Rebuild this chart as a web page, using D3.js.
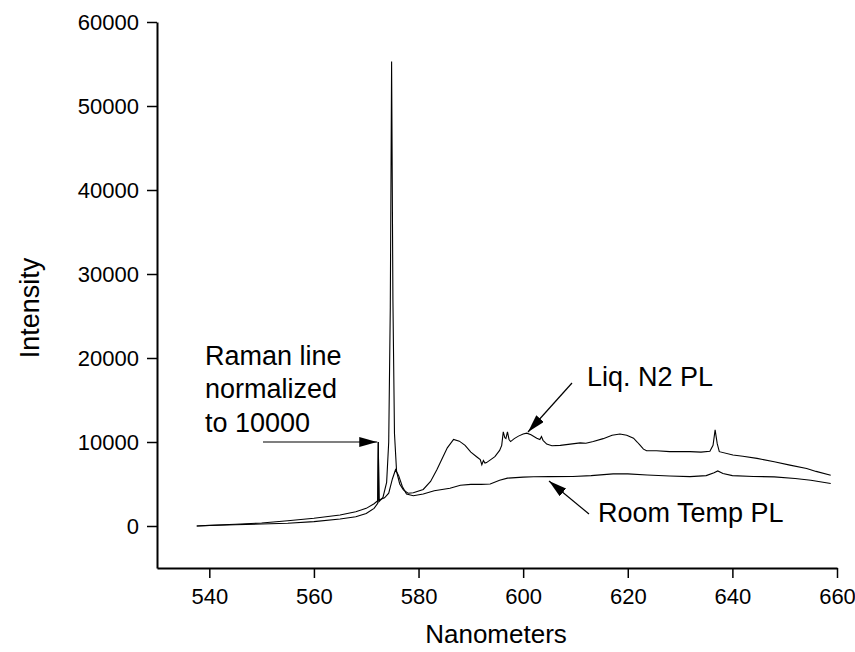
<!DOCTYPE html>
<html>
<head>
<meta charset="utf-8">
<script src="https://cdn.jsdelivr.net/npm/d3@7"></script>
<style>
  body { margin: 0; background: #fff; }
  text { font-family: "Liberation Sans", Arial, sans-serif; fill: #000; }
</style>
</head>
<body>
<svg width="855" height="652"></svg>
<script>
// spectra (nm, counts)
const n2Wave = [537.6, 540, 545, 550, 555, 560, 565, 568, 570, 571.5, 572.2, 572.3, 572.45,
    573.2, 573.9, 574.3, 574.6, 574.85, 575.1, 575.4, 575.8, 576.4, 577.1, 578.0, 579.0,
    580.9, 582.3, 583.5, 584.5, 585.5, 586.7, 587.8, 588.9, 590.0, 591.1, 591.8, 592.1,
    592.4, 592.7, 593.0, 593.8, 594.6, 595.5, 595.9, 596.2, 596.5, 596.7, 597.0, 597.3,
    597.6, 598.3, 599.1, 600.0, 600.7, 601.5, 602.6, 603.2, 603.5, 603.8, 604.5, 605.5,
    607.1, 609, 610.9, 612, 613.4, 615.3, 617, 618.5, 619.8, 621.1, 621.8, 622.3, 623.0,
    623.6, 625.5, 628, 631.9, 634, 635.7, 636.3, 636.7, 637.1, 637.5, 640.1, 642, 644.7,
    648, 651.0, 654.2, 656, 658.8];
const n2Int = [0, 60, 150, 240, 330, 520, 830, 1100, 1500, 2100, 2700, 10000, 2900,
    3400, 5200, 10000, 26000, 55300, 27000, 11000, 6500, 5000, 4300, 3900, 3950,
    4350, 5300, 6700, 8000, 9300, 10300, 10100, 9600, 8800, 8250, 7900, 7300,
    7800, 7500, 7550, 7900, 8250, 9000, 9600, 11200, 10500, 10400, 11200, 10300,
    10050, 10400, 10700, 10950, 11050, 10850, 10450, 10300, 10650, 10200, 9750, 9550,
    9600, 9750, 9900, 9850, 10050, 10400, 10800, 10950, 10800, 10450, 10000, 9650, 9150,
    8950, 8950, 8850, 8850, 8800, 8900, 9600, 11450, 9800, 8850, 8450, 8300, 8050,
    7650, 7250, 6850, 6500, 6050];

const rtWave = [537.6, 540, 545, 550, 555, 560, 565, 568, 570, 571.5, 572.2, 572.3, 572.45,
    573.5, 574.3, 575.0, 575.6, 576.2, 576.9, 577.7, 579, 580.9, 583, 586, 588, 590, 592,
    593.7, 595.5, 597, 600, 602, 605, 609.5, 613, 617.2, 620, 623.7, 628, 631.9, 635,
    636.5, 637.2, 638.2, 640, 644, 648, 652, 655, 658.8];
const rtInt = [0, 80, 200, 360, 620, 920, 1300, 1700, 2100, 2650, 3000, 10000, 3100,
    3350, 3900, 5600, 6700, 6000, 4700, 3800, 3600, 3800, 4200, 4500, 4850, 4950, 4950,
    5000, 5450, 5700, 5820, 5870, 5880, 5900, 6000, 6200, 6200, 6080, 5950, 5880, 6000,
    6350, 6550, 6250, 6000, 5900, 5850, 5650, 5450, 5050];

const xMajor = [540, 560, 580, 600, 620, 640, 660];
const xMinor = [530, 550, 570, 590, 610, 630, 650];
const yMajor = [0, 10000, 20000, 30000, 40000, 50000, 60000];
const yMinor = [-5000, 5000, 15000, 25000, 35000, 45000, 55000];

const svg = d3.select("svg");

const x = d3.scaleLinear().domain([530, 660]).range([157, 837]);
const y = d3.scaleLinear().domain([-5000, 60000]).range([568, 22]);

svg.append("defs").append("marker")
    .attr("id", "head")
    .attr("viewBox", "0 0 18 10")
    .attr("refX", 18).attr("refY", 5)
    .attr("markerWidth", 18).attr("markerHeight", 10)
    .attr("markerUnits", "userSpaceOnUse")
    .attr("orient", "auto")
    .append("path")
    .attr("d", "M0,0L18,5L0,10Z")
    .attr("fill", "#000");

// axes
const xAxis = svg.append("g").attr("transform", "translate(0,568)");
xAxis.call(d3.axisBottom(x).tickValues(xMinor).tickSize(6).tickFormat("").tickSizeOuter(0));
xAxis.call(d3.axisBottom(x).tickValues(xMajor).tickSize(10).tickPadding(10).tickSizeOuter(0));

const yAxis = svg.append("g").attr("transform", "translate(157,0)");
yAxis.call(d3.axisLeft(y).tickValues(yMinor).tickSize(6).tickFormat("").tickSizeOuter(0));
yAxis.call(d3.axisLeft(y).tickValues(yMajor).tickSize(10).tickPadding(8).tickFormat(d3.format("d")).tickSizeOuter(0));

svg.selectAll(".domain").attr("stroke-width", 2);
svg.selectAll(".tick line").attr("stroke-width", 1.5);
svg.selectAll(".tick text").attr("font-size", 22).attr("font-family", "Liberation Sans, Arial, sans-serif");

svg.append("text")
    .attr("x", 496).attr("y", 643)
    .attr("text-anchor", "middle")
    .attr("font-size", 26)
    .text("Nanometers");

svg.append("text")
    .attr("transform", "translate(39,308) rotate(-90)")
    .attr("text-anchor", "middle")
    .attr("font-size", 27)
    .text("Intensity");

// spectra
const line = d3.line().x(d => x(d[0])).y(d => y(d[1]));

svg.append("path")
    .datum(d3.zip(rtWave, rtInt))
    .attr("d", line)
    .attr("fill", "none")
    .attr("stroke", "#000")
    .attr("stroke-width", 1.1);

svg.append("path")
    .datum(d3.zip(n2Wave, n2Int))
    .attr("d", line)
    .attr("fill", "none")
    .attr("stroke", "#000")
    .attr("stroke-width", 1.1);

// annotations
const ann = svg.append("g").attr("font-size", 27);
ann.append("text").attr("x", 205).attr("y", 365).text("Raman line");
ann.append("text").attr("x", 205).attr("y", 398).text("normalized");
ann.append("text").attr("x", 205).attr("y", 432).text("to 10000");
ann.append("text").attr("x", 587).attr("y", 386).text("Liq. N2 PL");
ann.append("text").attr("x", 598).attr("y", 522).text("Room Temp PL");

const arrows = [
    [263, 442, x(572.3) - 1, 442],
    [572, 383, 528, 432],
    [589, 514, 549, 481]
];
svg.append("g").selectAll("line")
    .data(arrows)
    .enter().append("line")
    .attr("x1", d => d[0]).attr("y1", d => d[1])
    .attr("x2", d => d[2]).attr("y2", d => d[3])
    .attr("stroke", "#000")
    .attr("stroke-width", 1.2)
    .attr("marker-end", "url(#head)");
</script>
</body>
</html>
